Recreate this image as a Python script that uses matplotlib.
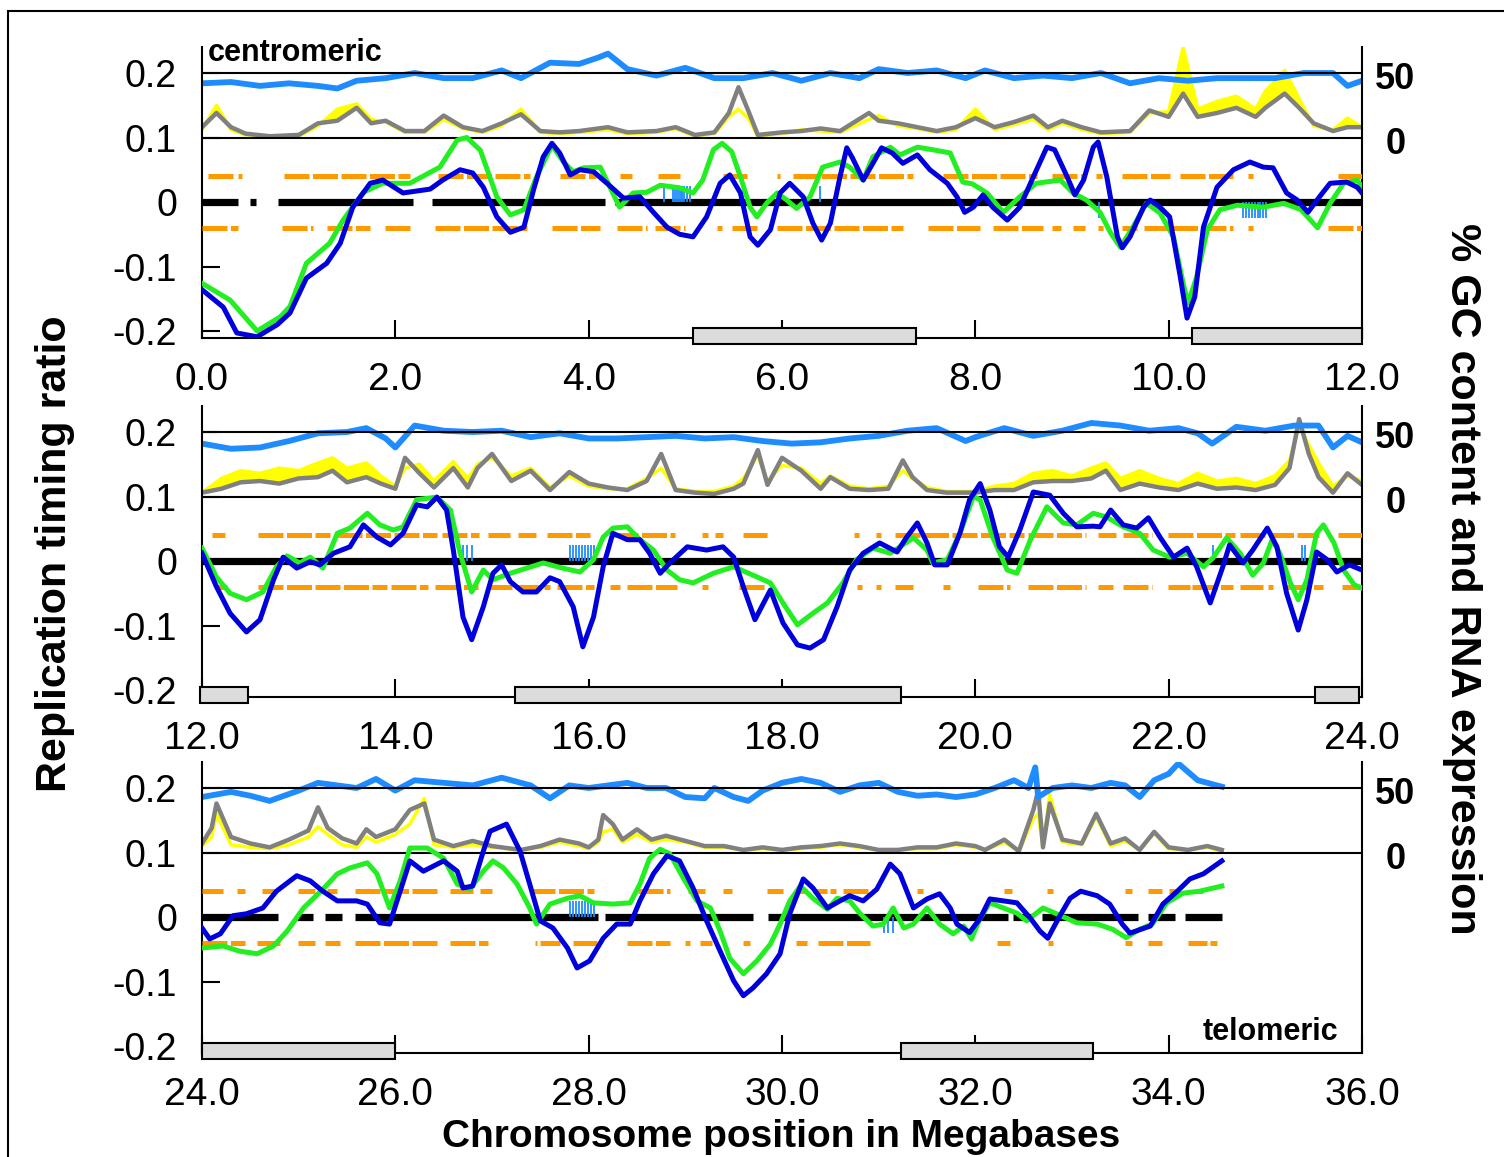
import matplotlib
matplotlib.use('Agg')
import matplotlib.pyplot as plt
from matplotlib.patches import Rectangle
from matplotlib.transforms import blended_transform_factory

plt.rcParams['font.family'] = ['Liberation Sans', 'DejaVu Sans']

# ---------------- panel 1 : 0 - 12 Mb ----------------
p1_blue_x = [0.0, 0.22, 0.36, 0.57, 0.78, 0.91, 1.08, 1.29, 1.43, 1.56, 1.74, 1.87, 2.08, 2.36, 2.49, 2.67, 2.80, 2.91, 3.05, 3.19, 3.33, 3.43, 3.53, 3.62, 3.70, 3.81, 3.91, 4.05, 4.19, 4.36, 4.53, 4.67, 4.81, 4.94, 5.08, 5.22, 5.36, 5.46, 5.57, 5.67, 5.75, 5.88, 5.98, 6.08, 6.22, 6.32, 6.41, 6.50, 6.60, 6.67, 6.73, 6.84, 6.94, 7.03, 7.14, 7.25, 7.40, 7.53, 7.71, 7.81, 7.89, 7.98, 8.08, 8.18, 8.33, 8.46, 8.60, 8.74, 8.82, 8.95, 9.03, 9.12, 9.22, 9.27, 9.36, 9.47, 9.52, 9.60, 9.74, 9.81, 9.91, 10.01, 10.12, 10.19, 10.27, 10.36, 10.50, 10.67, 10.84, 10.98, 11.08, 11.22, 11.33, 11.44, 11.56, 11.67, 11.84, 11.95, 12.0]
p1_blue_y = [-0.136, -0.163, -0.203, -0.209, -0.19, -0.172, -0.118, -0.095, -0.064, -0.008, 0.029, 0.034, 0.014, 0.02, 0.034, 0.05, 0.045, 0.023, -0.023, -0.047, -0.039, 0.019, 0.07, 0.091, 0.076, 0.042, 0.05, 0.047, 0.029, 0.006, 0.008, -0.016, -0.039, -0.05, -0.054, -0.023, 0.029, 0.042, 0.014, -0.054, -0.067, -0.043, 0.014, 0.029, 0.008, -0.033, -0.059, -0.033, 0.039, 0.084, 0.068, 0.034, 0.06, 0.084, 0.076, 0.06, 0.073, 0.05, 0.029, 0.008, -0.016, -0.008, 0.011, -0.008, -0.028, -0.008, 0.039, 0.085, 0.081, 0.039, 0.011, 0.034, 0.085, 0.093, 0.039, -0.054, -0.071, -0.054, -0.008, 0.003, -0.008, -0.023, -0.116, -0.18, -0.147, -0.039, 0.023, 0.05, 0.062, 0.054, 0.053, 0.014, 0.003, -0.016, 0.008, 0.029, 0.031, 0.023, 0.014]
p1_green_x = [0.0, 0.29, 0.57, 0.81, 0.91, 1.08, 1.32, 1.46, 1.67, 1.87, 2.15, 2.46, 2.64, 2.74, 2.88, 3.05, 3.19, 3.33, 3.46, 3.62, 3.74, 3.84, 3.95, 4.12, 4.22, 4.32, 4.46, 4.60, 4.74, 4.94, 5.08, 5.18, 5.29, 5.38, 5.48, 5.57, 5.67, 5.74, 5.84, 5.95, 6.05, 6.15, 6.29, 6.42, 6.60, 6.70, 6.84, 6.94, 7.12, 7.22, 7.40, 7.56, 7.74, 7.87, 7.97, 8.12, 8.29, 8.46, 8.63, 8.88, 9.01, 9.15, 9.29, 9.40, 9.50, 9.63, 9.77, 9.91, 10.05, 10.15, 10.20, 10.29, 10.40, 10.53, 10.71, 10.98, 11.19, 11.37, 11.54, 11.67, 11.81, 11.95, 12.0]
p1_green_y = [-0.126, -0.152, -0.2, -0.178, -0.162, -0.095, -0.064, -0.028, 0.015, 0.029, 0.029, 0.054, 0.096, 0.1, 0.08, 0.008, -0.02, -0.012, 0.039, 0.088, 0.062, 0.047, 0.053, 0.054, 0.023, -0.008, 0.014, 0.015, 0.026, 0.022, 0.014, 0.034, 0.081, 0.091, 0.078, 0.039, -0.008, -0.023, -0.002, 0.014, 0.003, -0.01, 0.008, 0.054, 0.062, 0.054, 0.034, 0.07, 0.085, 0.073, 0.085, 0.081, 0.076, 0.031, 0.028, 0.014, -0.016, 0.008, 0.029, 0.034, 0.014, 0.003, -0.016, -0.048, -0.07, -0.039, -0.002, -0.017, -0.054, -0.126, -0.157, -0.116, -0.043, -0.012, -0.005, -0.008, -0.002, -0.012, -0.04, -0.002, 0.029, 0.034, 0.023]
p1_gc_x = [0.0, 0.3, 0.6, 0.9, 1.2, 1.4, 1.6, 1.9, 2.2, 2.5, 2.8, 3.1, 3.3, 3.6, 3.9, 4.1, 4.2, 4.4, 4.7, 5.0, 5.3, 5.6, 5.9, 6.2, 6.5, 6.8, 7.0, 7.3, 7.6, 7.9, 8.1, 8.4, 8.7, 9.0, 9.3, 9.6, 9.9, 10.2, 10.5, 10.8, 11.1, 11.4, 11.7, 11.85, 12.0]
p1_gc = [42, 43, 40, 42, 40, 38, 44, 46, 50, 46, 46, 52, 46, 58, 57, 62, 65, 53, 48, 54, 46, 46, 50, 44, 50, 46, 53, 50, 52, 46, 52, 46, 48, 46, 50, 42, 46, 44, 46, 46, 46, 50, 50, 40, 44]
p1_rna_x = [0.0, 0.15, 0.3, 0.45, 0.7, 1.0, 1.2, 1.4, 1.6, 1.75, 1.9, 2.1, 2.3, 2.5, 2.7, 2.9, 3.1, 3.3, 3.5, 3.7, 3.9, 4.2, 4.4, 4.7, 4.9, 5.1, 5.3, 5.45, 5.55, 5.65, 5.75, 6.0, 6.2, 6.4, 6.6, 6.9, 7.0, 7.2, 7.4, 7.6, 7.8, 8.0, 8.2, 8.4, 8.6, 8.75, 8.9, 9.1, 9.3, 9.6, 9.8, 10.0, 10.15, 10.3, 10.5, 10.7, 10.9, 11.0, 11.2, 11.35, 11.5, 11.7, 11.85, 12.0]
p1_rna_gray = [8, 19, 8, 3, 1, 2, 11, 13, 23, 11, 13, 5, 5, 17, 8, 5, 11, 18, 5, 4, 5, 8, 4, 5, 8, 2, 4, 19, 39, 21, 2, 4, 5, 7, 5, 19, 13, 11, 8, 5, 8, 15, 8, 12, 17, 8, 13, 8, 4, 5, 21, 16, 34, 16, 19, 23, 16, 23, 34, 23, 11, 5, 8, 8]
p1_rna_yellow = [6, 25, 6, 2, 1, 1, 9, 22, 26, 14, 12, 4, 4, 14, 7, 4, 9, 22, 4, 3, 4, 6, 3, 4, 7, 1, 3, 16, 22, 15, 1, 3, 6, 5, 4, 14, 17, 9, 7, 4, 6, 22, 6, 10, 14, 6, 11, 6, 3, 4, 19, 20, 70, 22, 28, 32, 22, 36, 52, 30, 9, 6, 15, 8]
p1_orange_up = [(0.06, 0.34), (0.37, 0.41), (0.85, 2.15), (2.44, 3.39), (3.70, 4.08), (4.32, 4.45), (4.72, 4.94), (5.39, 5.64), (5.95, 5.98), (6.11, 7.36), (7.67, 8.64), (8.79, 9.11), (9.25, 9.31), (9.52, 10.01), (10.12, 10.67), (10.82, 10.87), (11.75, 12.0)]
p1_orange_dn = [(0.0, 0.37), (0.83, 1.15), (1.29, 1.74), (1.89, 2.15), (2.41, 3.36), (3.62, 4.12), (4.29, 4.6), (4.69, 5.0), (5.33, 5.38), (5.48, 5.75), (5.95, 7.25), (7.51, 8.05), (8.18, 8.7), (8.79, 8.89), (9.01, 9.13), (9.27, 9.32), (9.52, 9.67), (9.74, 10.67), (10.82, 10.87), (11.65, 12.0)]
p1_black = [(0.0, 0.37), (0.5, 0.56), (0.79, 2.18), (2.38, 4.17), (4.27, 12.0)]
p1_ticks_up = [4.78, 4.87, 4.89, 4.91, 4.93, 4.95, 4.97, 4.99, 5.02, 5.05, 6.39]
p1_ticks_dn = [9.28, 10.77, 10.80, 10.83, 10.86, 10.89, 10.92, 10.95, 10.98, 11.01]
p1_boxes = [(5.08, 7.39), (10.24, 12.0)]

# ---------------- panel 2 : 12 - 24 Mb ----------------
p2_blue_x = [12.0, 12.15, 12.29, 12.46, 12.60, 12.74, 12.84, 12.98, 13.12, 13.22, 13.36, 13.53, 13.67, 13.81, 13.95, 14.08, 14.22, 14.33, 14.43, 14.53, 14.60, 14.70, 14.79, 14.91, 15.01, 15.10, 15.19, 15.32, 15.46, 15.60, 15.70, 15.84, 15.94, 16.05, 16.15, 16.25, 16.40, 16.53, 16.63, 16.74, 16.84, 17.02, 17.22, 17.39, 17.50, 17.60, 17.72, 17.81, 17.88, 18.01, 18.16, 18.29, 18.43, 18.57, 18.70, 18.84, 19.01, 19.19, 19.29, 19.40, 19.50, 19.58, 19.71, 19.84, 19.94, 20.05, 20.15, 20.25, 20.34, 20.46, 20.60, 20.77, 20.91, 21.05, 21.22, 21.29, 21.40, 21.53, 21.67, 21.79, 21.91, 22.05, 22.19, 22.29, 22.43, 22.56, 22.63, 22.77, 22.87, 23.02, 23.12, 23.22, 23.34, 23.43, 23.53, 23.64, 23.74, 23.87, 24.0]
p2_blue_y = [0.012, -0.04, -0.081, -0.11, -0.091, -0.029, 0.006, -0.011, -0.001, -0.006, 0.012, 0.022, 0.056, 0.037, 0.025, 0.043, 0.087, 0.084, 0.099, 0.079, 0.017, -0.087, -0.122, -0.071, -0.019, -0.006, -0.032, -0.048, -0.048, -0.026, -0.032, -0.071, -0.133, -0.087, -0.009, 0.043, 0.033, 0.033, 0.012, -0.019, -0.003, 0.022, 0.017, 0.022, 0.006, -0.04, -0.091, -0.065, -0.045, -0.096, -0.13, -0.135, -0.122, -0.071, -0.014, 0.012, 0.028, 0.014, 0.037, 0.059, 0.028, -0.006, -0.006, 0.043, 0.095, 0.12, 0.079, 0.022, 0.006, 0.048, 0.107, 0.102, 0.074, 0.053, 0.054, 0.053, 0.079, 0.056, 0.051, 0.067, 0.037, 0.006, 0.02, -0.009, -0.065, -0.009, 0.025, -0.003, 0.017, 0.051, 0.022, -0.05, -0.107, -0.06, 0.014, 0.002, -0.017, -0.006, -0.014]
p2_green_x = [12.0, 12.15, 12.29, 12.46, 12.63, 12.77, 12.88, 13.01, 13.12, 13.25, 13.40, 13.53, 13.71, 13.84, 13.98, 14.08, 14.22, 14.43, 14.57, 14.67, 14.79, 14.91, 15.01, 15.19, 15.36, 15.53, 15.73, 15.91, 16.05, 16.15, 16.25, 16.40, 16.53, 16.67, 16.81, 16.94, 17.08, 17.29, 17.50, 17.70, 17.88, 18.01, 18.16, 18.32, 18.47, 18.63, 18.77, 18.94, 19.12, 19.36, 19.50, 19.56, 19.71, 19.84, 19.98, 20.05, 20.18, 20.33, 20.43, 20.57, 20.74, 20.91, 21.05, 21.22, 21.36, 21.53, 21.70, 21.84, 22.01, 22.19, 22.36, 22.46, 22.60, 22.74, 22.87, 22.98, 23.07, 23.15, 23.26, 23.34, 23.43, 23.53, 23.60, 23.71, 23.81, 23.92, 24.0]
p2_green_y = [0.02, -0.025, -0.05, -0.06, -0.048, -0.009, 0.008, -0.003, 0.006, -0.011, 0.043, 0.051, 0.074, 0.056, 0.048, 0.053, 0.095, 0.099, 0.079, 0.012, -0.048, -0.014, -0.029, -0.019, -0.011, -0.003, -0.011, -0.017, 0.002, 0.037, 0.051, 0.053, 0.033, 0.017, -0.014, -0.029, -0.034, -0.019, -0.009, -0.022, -0.034, -0.065, -0.099, -0.081, -0.065, -0.034, 0.002, 0.02, 0.012, 0.036, 0.017, -0.003, 0.002, 0.043, 0.1, 0.095, 0.037, -0.014, -0.019, 0.033, 0.084, 0.059, 0.056, 0.074, 0.068, 0.053, 0.043, 0.017, 0.006, 0.012, -0.009, 0.005, 0.036, 0.012, -0.022, -0.003, 0.033, 0.012, -0.034, -0.06, -0.029, 0.043, 0.056, 0.028, -0.014, -0.037, -0.042]
p2_gc_x = [12.0, 12.3, 12.6, 12.9, 13.2, 13.5, 13.7, 13.9, 14.0, 14.2, 14.5, 14.8, 15.1, 15.4, 15.7, 16.0, 16.3, 16.6, 16.9, 17.2, 17.5, 17.8, 18.1, 18.4, 18.7, 19.0, 19.3, 19.6, 19.9, 20.0, 20.3, 20.6, 20.9, 21.2, 21.5, 21.8, 22.1, 22.3, 22.45, 22.7, 23.0, 23.3, 23.55, 23.7, 23.85, 24.0]
p2_gc = [41, 37, 38, 43, 49, 50, 53, 45, 38, 55, 51, 50, 51, 46, 49, 45, 45, 46, 47, 45, 46, 43, 41, 42, 45, 47, 51, 53, 43, 46, 53, 47, 51, 57, 55, 51, 53, 49, 41, 54, 51, 55, 55, 38, 47, 42]
p2_rna_x = [12.0, 12.2, 12.4, 12.6, 12.8, 13.0, 13.2, 13.35, 13.5, 13.7, 13.85, 14.0, 14.1, 14.25, 14.4, 14.6, 14.75, 14.85, 15.0, 15.2, 15.4, 15.6, 15.8, 16.0, 16.2, 16.4, 16.6, 16.75, 16.9, 17.1, 17.3, 17.5, 17.6, 17.75, 17.85, 18.0, 18.2, 18.4, 18.5, 18.7, 18.9, 19.1, 19.25, 19.35, 19.5, 19.7, 19.9, 20.0, 20.2, 20.4, 20.6, 20.8, 21.0, 21.2, 21.35, 21.5, 21.7, 21.9, 22.1, 22.3, 22.5, 22.7, 22.9, 23.1, 23.25, 23.35, 23.45, 23.55, 23.7, 23.85, 24.0]
p2_rna_gray = [3, 6, 11, 12, 10, 14, 15, 20, 11, 15, 10, 6, 30, 18, 7, 22, 7, 22, 33, 12, 20, 5, 19, 10, 7, 5, 12, 33, 5, 3, 2, 6, 10, 36, 9, 30, 20, 6, 15, 6, 5, 6, 28, 15, 5, 3, 3, 3, 5, 5, 11, 12, 12, 14, 20, 5, 10, 7, 5, 10, 6, 7, 5, 9, 22, 60, 33, 15, 3, 18, 9]
p2_rna_yellow = [3, 14, 20, 18, 22, 20, 26, 30, 22, 26, 16, 8, 22, 25, 12, 27, 14, 25, 30, 16, 22, 7, 16, 8, 6, 6, 14, 22, 6, 4, 4, 8, 14, 32, 12, 24, 22, 10, 16, 8, 6, 8, 20, 14, 7, 4, 4, 4, 8, 10, 18, 20, 16, 22, 26, 14, 20, 14, 10, 18, 12, 14, 10, 16, 28, 55, 40, 26, 8, 16, 12]
p2_orange_up = [(12.1, 12.24), (12.58, 13.32), (13.4, 14.43), (14.48, 14.87), (14.96, 15.19), (15.27, 15.46), (15.57, 16.01), (16.25, 16.89), (17.17, 17.23), (17.31, 17.39), (17.6, 17.84), (18.75, 18.8), (18.97, 19.02), (19.17, 20.5), (20.55, 21.14), (21.27, 21.46), (21.53, 21.83), (21.99, 22.69), (22.74, 23.55), (23.75, 24.0)]
p2_orange_dn = [(12.13, 12.26), (12.58, 13.91), (13.96, 14.34), (14.41, 14.86), (14.95, 15.6), (15.67, 16.06), (16.22, 16.32), (16.4, 16.91), (17.17, 17.23), (17.56, 17.84), (18.78, 18.83), (18.97, 19.02), (19.17, 19.36), (19.67, 19.74), (20.03, 20.36), (20.55, 21.15), (21.27, 21.42), (21.53, 21.83), (21.99, 22.22), (22.24, 22.67), (22.74, 22.98), (23.03, 23.08), (23.2, 23.6), (23.79, 24.0)]
p2_black = [(12.0, 24.0)]
p2_ticks_up = [14.70, 14.74, 14.79, 15.81, 15.84, 15.87, 15.90, 15.93, 15.96, 15.99, 16.02, 16.05, 22.46, 23.38, 23.41]
p2_ticks_dn = []
p2_boxes = [(11.98, 12.48), (15.24, 19.23), (23.51, 23.97)]

# ---------------- panel 3 : 24 - 36 Mb ----------------
p3_blue_x = [24.0, 24.08, 24.19, 24.32, 24.46, 24.63, 24.77, 24.98, 25.12, 25.25, 25.40, 25.60, 25.71, 25.84, 25.94, 26.05, 26.15, 26.29, 26.50, 26.64, 26.70, 26.80, 26.91, 26.98, 27.15, 27.29, 27.39, 27.50, 27.63, 27.78, 27.88, 28.01, 28.15, 28.29, 28.43, 28.53, 28.67, 28.81, 28.94, 29.08, 29.22, 29.36, 29.50, 29.60, 29.70, 29.84, 29.98, 30.08, 30.22, 30.32, 30.47, 30.60, 30.70, 30.84, 30.98, 31.12, 31.22, 31.36, 31.50, 31.63, 31.74, 31.81, 31.94, 32.05, 32.15, 32.29, 32.43, 32.57, 32.67, 32.75, 32.86, 32.98, 33.09, 33.26, 33.39, 33.52, 33.60, 33.81, 33.94, 34.09, 34.22, 34.36, 34.55]
p3_blue_y = [-0.017, -0.034, -0.026, 0.002, 0.005, 0.014, 0.04, 0.064, 0.056, 0.04, 0.025, 0.025, 0.02, -0.009, -0.011, 0.04, 0.087, 0.071, 0.087, 0.071, 0.045, 0.048, 0.102, 0.133, 0.144, 0.102, 0.051, -0.006, -0.017, -0.048, -0.079, -0.068, -0.033, -0.011, -0.011, 0.025, 0.067, 0.095, 0.087, 0.045, -0.006, -0.053, -0.099, -0.122, -0.11, -0.088, -0.057, 0.005, 0.059, 0.045, 0.014, 0.025, 0.033, 0.025, 0.043, 0.082, 0.067, 0.014, 0.028, 0.036, 0.014, -0.011, -0.024, -0.002, 0.028, 0.025, 0.022, -0.002, -0.022, -0.033, -0.002, 0.029, 0.04, 0.033, 0.02, -0.011, -0.025, -0.014, 0.02, 0.04, 0.059, 0.067, 0.087]
p3_green_x = [24.0, 24.22, 24.39, 24.57, 24.74, 24.88, 25.05, 25.25, 25.40, 25.53, 25.71, 25.81, 25.94, 26.05, 26.15, 26.33, 26.50, 26.64, 26.77, 26.91, 27.01, 27.12, 27.26, 27.39, 27.46, 27.60, 27.78, 27.91, 28.05, 28.25, 28.43, 28.53, 28.63, 28.74, 28.84, 28.98, 29.12, 29.26, 29.36, 29.46, 29.60, 29.74, 29.88, 29.98, 30.08, 30.19, 30.32, 30.47, 30.57, 30.70, 30.81, 30.94, 31.05, 31.15, 31.26, 31.36, 31.50, 31.63, 31.77, 31.88, 31.96, 32.05, 32.15, 32.29, 32.43, 32.53, 32.70, 32.84, 33.05, 33.26, 33.42, 33.56, 33.70, 33.83, 33.98, 34.15, 34.32, 34.55]
p3_green_y = [-0.048, -0.045, -0.053, -0.057, -0.045, -0.022, 0.014, 0.043, 0.067, 0.076, 0.084, 0.067, 0.014, 0.056, 0.107, 0.107, 0.091, 0.051, 0.043, 0.071, 0.087, 0.076, 0.051, 0.014, -0.011, 0.02, 0.029, 0.033, 0.022, 0.02, 0.022, 0.051, 0.091, 0.105, 0.098, 0.06, 0.025, 0.014, -0.022, -0.064, -0.088, -0.068, -0.042, -0.011, 0.025, 0.048, 0.029, 0.012, 0.029, 0.025, 0.005, -0.014, -0.011, 0.014, -0.017, -0.011, 0.014, -0.011, -0.026, -0.014, -0.034, -0.002, 0.022, 0.014, 0.006, -0.006, 0.014, 0.005, -0.009, -0.011, -0.019, -0.032, -0.019, -0.011, 0.022, 0.037, 0.04, 0.048]
p3_gc_x = [24.0, 24.3, 24.5, 24.7, 25.0, 25.2, 25.4, 25.6, 25.8, 26.0, 26.2, 26.5, 26.8, 27.1, 27.4, 27.6, 27.8, 28.0, 28.2, 28.4, 28.6, 28.8, 29.0, 29.2, 29.3, 29.5, 29.65, 29.8, 30.0, 30.2, 30.4, 30.6, 30.8, 31.0, 31.2, 31.4, 31.6, 31.8, 32.0, 32.2, 32.4, 32.55, 32.62, 32.65, 32.8, 33.0, 33.2, 33.4, 33.55, 33.7, 33.85, 34.0, 34.1, 34.3, 34.5, 34.55]
p3_gc = [43, 47, 44, 40, 48, 54, 52, 50, 57, 48, 56, 54, 52, 58, 52, 42, 52, 50, 52, 54, 50, 50, 43, 42, 50, 43, 40, 48, 54, 57, 54, 47, 52, 54, 47, 44, 45, 43, 45, 50, 56, 50, 66, 43, 50, 52, 50, 54, 52, 43, 56, 61, 69, 56, 52, 51]
p3_rna_x = [24.0, 24.1, 24.15, 24.3, 24.5, 24.7, 24.9, 25.1, 25.2, 25.3, 25.45, 25.6, 25.7, 25.8, 26.0, 26.15, 26.3, 26.4, 26.6, 26.8, 27.0, 27.3, 27.5, 27.7, 27.9, 28.0, 28.1, 28.15, 28.25, 28.35, 28.5, 28.65, 28.8, 29.0, 29.2, 29.4, 29.6, 29.8, 30.0, 30.2, 30.4, 30.6, 30.8, 31.0, 31.2, 31.4, 31.6, 31.8, 32.0, 32.1, 32.3, 32.45, 32.6, 32.65, 32.7, 32.77, 32.9, 33.1, 33.25, 33.4, 33.55, 33.7, 33.85, 34.0, 34.2, 34.4, 34.55]
p3_rna_gray = [7, 19, 38, 12, 7, 4, 10, 17, 35, 19, 11, 7, 18, 12, 18, 33, 38, 10, 5, 9, 5, 2, 5, 10, 7, 4, 10, 29, 22, 10, 18, 10, 13, 9, 5, 5, 2, 4, 2, 4, 5, 7, 5, 2, 2, 4, 4, 7, 5, 2, 10, 1, 33, 48, 4, 38, 10, 7, 30, 7, 11, 2, 16, 4, 2, 5, 2]
p3_rna_yellow = [5, 12, 30, 6, 4, 3, 6, 12, 20, 14, 6, 4, 12, 8, 14, 22, 42, 6, 4, 6, 4, 2, 4, 8, 5, 3, 8, 16, 18, 8, 14, 8, 10, 8, 4, 4, 2, 3, 2, 3, 4, 6, 4, 2, 2, 3, 3, 6, 4, 2, 8, 1, 26, 30, 4, 45, 8, 6, 28, 5, 9, 2, 15, 3, 2, 4, 1]
p3_orange_up = [(24.0, 24.22), (24.36, 24.44), (24.62, 24.78), (24.99, 25.17), (25.29, 25.4), (25.58, 26.43), (26.57, 26.8), (26.88, 27.0), (27.39, 28.05), (28.51, 28.84), (29.03, 29.2), (29.39, 29.48), (29.84, 30.01), (30.15, 30.26), (30.32, 30.47), (30.5, 30.56), (30.63, 30.93), (31.4, 31.46), (32.3, 32.38), (32.74, 32.8), (33.55, 33.62), (33.79, 33.93), (34.0, 34.07), (34.3, 34.35)]
p3_orange_dn = [(24.0, 24.44), (24.57, 24.81), (24.99, 25.17), (25.27, 25.43), (25.58, 26.44), (26.57, 26.96), (27.44, 27.47), (27.5, 27.7), (27.84, 28.09), (28.4, 28.84), (29.0, 29.05), (29.15, 29.28), (29.6, 29.67), (30.15, 30.26), (30.37, 30.91), (32.22, 32.36), (32.75, 32.8), (33.55, 33.62), (33.79, 33.93), (34.2, 34.4), (34.43, 34.5)]
p3_black = [(24.0, 24.79), (24.98, 25.15), (25.27, 25.45), (25.58, 28.1), (28.17, 29.7), (29.86, 32.34), (32.39, 32.59), (32.69, 33.68), (33.79, 34.07), (34.17, 34.55)]
p3_ticks_up = [27.81, 27.84, 27.87, 27.90, 27.93, 27.96, 27.99, 28.02, 28.05]
p3_ticks_dn = [31.05, 31.10, 31.15]
p3_boxes = [(24.0, 26.0), (31.23, 33.22)]

y_ticks = [-0.2, -0.1, 0, 0.1, 0.2]
y_ticklabels = ['-0.2', '-0.1', '0', '0.1', '0.2']

panels = [
    (0, p1_blue_x, p1_blue_y, p1_green_x, p1_green_y, p1_gc_x, p1_gc, p1_rna_x, p1_rna_gray, p1_rna_yellow,
     p1_orange_up, p1_orange_dn, p1_black, p1_ticks_up, p1_ticks_dn, p1_boxes),
    (12, p2_blue_x, p2_blue_y, p2_green_x, p2_green_y, p2_gc_x, p2_gc, p2_rna_x, p2_rna_gray, p2_rna_yellow,
     p2_orange_up, p2_orange_dn, p2_black, p2_ticks_up, p2_ticks_dn, p2_boxes),
    (24, p3_blue_x, p3_blue_y, p3_green_x, p3_green_y, p3_gc_x, p3_gc, p3_rna_x, p3_rna_gray, p3_rna_yellow,
     p3_orange_up, p3_orange_dn, p3_black, p3_ticks_up, p3_ticks_dn, p3_boxes),
]

def pct(v):
    # right-hand scale: 0 % sits on the 0.1 line, 50 % on the 0.2 line
    return [0.1 + a * 0.002 for a in v]

W, H = 1504, 1157
fig = plt.figure(figsize=(W / 100, H / 100), dpi=100)

tops = [47.2, 406.2, 762.2]
ax_h = 290.9

for k, p in enumerate(panels):
    (off, bx, by, gx, gy, cx, cv, rx, rg, ry, oup, odn, blk, tup, tdn, boxes) = p
    ax = fig.add_axes([202 / W, 1 - (tops[k] + ax_h) / H, 1160 / W, ax_h / H])
    ax.set_xlim(off, off + 12)
    ax.set_ylim(-0.211, 0.24)

    # expression + GC tracks
    gray_y = pct(rg)
    yel_y = pct(ry)
    ax.fill_between(rx, gray_y, yel_y, where=[a > b for a, b in zip(ry, rg)], interpolate=True,
                    color='#ffff00', lw=0, zorder=1)
    ax.plot(rx, yel_y, color='#ffff00', lw=2.5, zorder=1)
    ax.plot(rx, gray_y, color='#808080', lw=3.2, zorder=2)
    ax.plot(cx, pct(cv), color='#1e8cff', lw=4.2, zorder=2)
    ax.axhline(0.2, color='black', lw=1.5, zorder=4)
    ax.axhline(0.1, color='black', lw=1.5, zorder=4)

    for a, b in oup:
        ax.plot([a, b], [0.04, 0.04], color='#ff9900', lw=3.6, ls=(0, (5, 0.7)),
                solid_capstyle='butt', dash_capstyle='butt', zorder=3)
    for a, b in odn:
        ax.plot([a, b], [-0.04, -0.04], color='#ff9900', lw=3.6, ls=(0, (5, 0.7)),
                solid_capstyle='butt', dash_capstyle='butt', zorder=3)
    for a, b in blk:
        ax.plot([a, b], [0, 0], color='black', lw=5.2, solid_capstyle='butt', zorder=3)
    if tup:
        ax.vlines(tup, 0, 0.025, color='#1e8cff', lw=1.3, zorder=5)
    if tdn:
        ax.vlines(tdn, -0.025, 0, color='#1e8cff', lw=1.3, zorder=5)

    ax.plot(gx, gy, color='#22ee22', lw=3.6, zorder=6)
    ax.plot(bx, by, color='#0000dd', lw=3.6, zorder=7)

    for a, b in boxes:
        ax.add_patch(Rectangle((a, -0.22), b - a, 0.024, facecolor='#dcdcdc', edgecolor='black',
                               lw=1.5, clip_on=False, zorder=8))

    ax.spines['top'].set_visible(False)
    for s in ['left', 'right', 'bottom']:
        ax.spines[s].set_linewidth(1.5)
    ax.set_yticks(y_ticks)
    ax.set_yticklabels(y_ticklabels)
    ax.set_xticks([off + i for i in range(0, 13, 2)])
    ax.set_xticklabels(['%.1f' % (off + i) for i in range(0, 13, 2)])
    ax.tick_params(axis='y', direction='in', length=13, width=1.5, pad=18, labelsize=27)
    ax.tick_params(axis='x', direction='in', length=13, width=1.5, pad=17, labelsize=28)

    tr = blended_transform_factory(ax.transAxes, ax.transData)
    ax.text(1.011, 0.190, '50', transform=tr, fontsize=26, fontweight='bold', ha='left', va='center')
    ax.text(1.02, 0.089, '0', transform=tr, fontsize=26, fontweight='bold', ha='left', va='center')

fig.text(208 / W, 1 - 53 / H, 'centromeric', fontsize=22, fontweight='bold', ha='left', va='center')
fig.text(1338 / W, 1 - 1032 / H, 'telomeric', fontsize=22, fontweight='bold', ha='right', va='center')

fig.text(55 / W, 1 - 554 / H, 'Replication timing ratio', rotation=90, fontsize=31,
         fontweight='bold', ha='center', va='center')
fig.text(1462 / W, 1 - 579 / H, '% GC content and RNA expression', rotation=-90, fontsize=31,
         fontweight='bold', ha='center', va='center')
fig.text(781 / W, 1 - 1137 / H, 'Chromosome position in Megabases', fontsize=28,
         fontweight='bold', ha='center', va='center')

# outer frame
fig.add_artist(Rectangle((8 / W, -0.05), 1.1, 1.05 - 11 / H, transform=fig.transFigure,
                         fill=False, edgecolor='black', lw=1.5))

fig.savefig('out.png', dpi=100)
